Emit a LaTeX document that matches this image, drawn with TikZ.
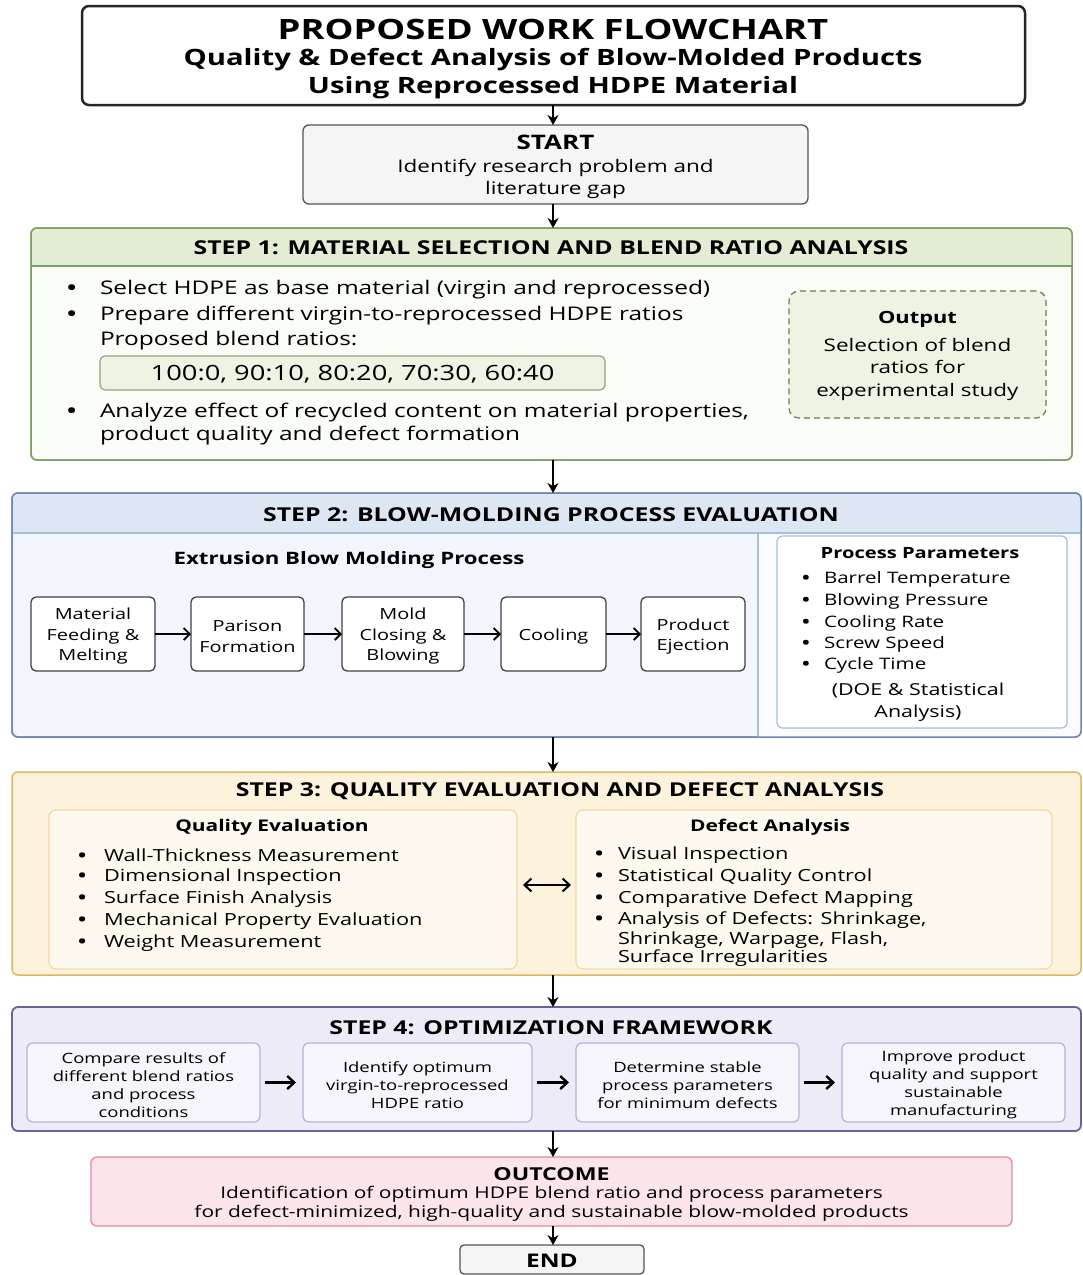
\documentclass[tikz,border=0pt]{standalone}
\usepackage{fontspec}
\setmainfont{Open Sans}[FakeStretch=1.3]
\usetikzlibrary{arrows.meta}
\definecolor{gbord}{HTML}{7E9E68}
\definecolor{ghead}{HTML}{E2EDD4}
\definecolor{gbody}{HTML}{FAFCF7}
\definecolor{gbox}{HTML}{EDF4E4}
\definecolor{gboxb}{HTML}{8FA382}
\definecolor{bbord}{HTML}{6F85B5}
\definecolor{bhead}{HTML}{DDE7F4}
\definecolor{bbody}{HTML}{F2F6FC}
\definecolor{bpanel}{HTML}{F9FBFE}
\definecolor{bpanelb}{HTML}{A8BEDD}
\definecolor{ybord}{HTML}{DDB762}
\definecolor{ybody}{HTML}{FDF3DC}
\definecolor{yin}{HTML}{FEF9EF}
\definecolor{yinb}{HTML}{EFD9A3}
\definecolor{pbord}{HTML}{6A6396}
\definecolor{pbody}{HTML}{EEEBF8}
\definecolor{pin}{HTML}{F7F5FC}
\definecolor{pinb}{HTML}{B9B1D5}
\definecolor{rbody}{HTML}{FBE4EA}
\definecolor{rbord}{HTML}{E2899C}
\definecolor{grayfill}{HTML}{F5F5F5}
\definecolor{grayline}{HTML}{555555}
\newcommand{\fz}[1]{\fontsize{#1}{1.25\dimexpr#1pt\relax}\selectfont}
\newcommand{\fzl}[2]{\fontsize{#1}{#2}\selectfont}
\newcommand{\bul}[1]{\makebox[#1][l]{\bfseries •}}
\tikzset{
  box/.style={rectangle, rounded corners=6pt, anchor=north west, inner sep=0pt, outer sep=0pt},
  txt/.style={inner sep=0pt, outer sep=0pt, yshift=-1.5pt},
  ctx/.style={inner sep=0pt, outer sep=0pt, align=center, yshift=-2.5pt},
  lt/.style={txt, anchor=west, yshift=-1pt},
  flow/.style={-{Stealth[length=10pt,width=11pt]}, line width=2.2pt, black},
  pa/.style={-{Straight Barb[length=6pt,width=12pt]}, line width=1.8pt, black},
  oa/.style={-{Straight Barb[length=7pt,width=13pt]}, line width=2.4pt, black},
}
\begin{document}
\begin{tikzpicture}[x=1pt,y=-1pt]
\useasboundingbox (0,0) rectangle (1083,1275);
\coordinate (axis) at (553,0);

% ---------- title
\node[box, draw=black!85, fill=white, line width=2.5pt, rounded corners=7pt, minimum width=943, minimum height=99] (title) at (82,6) {};
\node[txt, font=\fz{28}\bfseries] (t1) at (553,28) {PROPOSED WORK FLOWCHART};
\node[txt, font=\fz{22.5}\bfseries] (t2) at (553,58) {Quality \& Defect Analysis of Blow-Molded Products};
\node[txt, font=\fz{22.5}\bfseries] (t3) at (553,86) {Using Reprocessed HDPE Material};

% ---------- start
\node[box, draw=grayline, fill=grayfill, line width=1.3pt, minimum width=505, minimum height=79] (start) at (303,125) {};
\node[ctx, font=\fzl{17.3}{22}] (startt) at (start.center)
  {{\fz{20}\bfseries START}\\[1pt] Identify research problem and\\ literature gap};

% ---------- step 1
\node[box, draw=gbord, fill=gbody, line width=1.5pt, minimum width=1041, minimum height=232] (s1) at (31,228) {};
\begin{scope}
  \clip[rounded corners=6pt] (s1.north west) rectangle (s1.south east);
  \fill[ghead] (s1.north west) rectangle ([yshift=-38pt]s1.north east);
\end{scope}
\draw[gbord, line width=1.2pt] ([yshift=-38pt]s1.north west) -- ([yshift=-38pt]s1.north east);
\draw[gbord, line width=1.5pt, rounded corners=6pt] (s1.north west) rectangle (s1.south east);
\node[txt, font=\fz{19.1}\bfseries] (h1) at (551,246) {STEP 1: MATERIAL SELECTION AND BLEND RATIO ANALYSIS};
\node[lt, font=\fz{18.8}] (b1a) at (67,287) {\bul{33pt}Select HDPE as base material (virgin and reprocessed)};
\node[lt, font=\fz{18.8}] (b1b) at (67,313) {\bul{33pt}Prepare different virgin-to-reprocessed HDPE ratios};
\node[lt, font=\fz{18.8}] (b1c) at (100,338) {Proposed blend ratios:};
\node[box, draw=gboxb, fill=gbox, line width=1.2pt, rounded corners=5pt, minimum width=505, minimum height=34] (ratio) at (100,356) {};
\node[ctx, font=\fz{21}, yshift=1pt] (ratiot) at (ratio.center) {100:0, 90:10, 80:20, 70:30, 60:40};
\node[lt, font=\fz{18.8}] (b1d) at (67,410) {\bul{33pt}Analyze effect of recycled content on material properties,};
\node[lt, font=\fz{18.8}] (b1e) at (100,433) {product quality and defect formation};
\node[box, draw=gbord!80!black, fill=gbox, line width=1.2pt, dash pattern=on 6pt off 4pt, rounded corners=10pt, minimum width=257, minimum height=127] (out) at (789,291) {};
\node[ctx, font=\fzl{17.3}{22.5}, yshift=1pt] (outt) at (out.center)
  {{\fz{16.8}\bfseries Output}\\[5pt] Selection of blend\\ ratios for\\ experimental study};

% ---------- step 2
\node[box, draw=bbord, fill=bbody, line width=1.5pt, minimum width=1069, minimum height=244] (s2) at (12,493) {};
\begin{scope}
  \clip[rounded corners=6pt] (s2.north west) rectangle (s2.south east);
  \fill[bhead] (s2.north west) rectangle ([yshift=-40pt]s2.north east);
  \fill[bpanel] (758,533) rectangle (1081,737);
\end{scope}
\draw[bpanelb, line width=1.2pt] ([yshift=-40pt]s2.north west) -- ([yshift=-40pt]s2.north east);
\draw[bpanelb, line width=1.2pt] (758,533) -- (758,737);
\draw[bbord, line width=1.5pt, rounded corners=6pt] (s2.north west) rectangle (s2.south east);
\node[txt, font=\fz{19.1}\bfseries] (h2) at (551,513) {STEP 2: BLOW-MOLDING PROCESS EVALUATION};
\node[txt, font=\fz{17.1}\bfseries] (ebm) at (349,559) {Extrusion Blow Molding Process};
\tikzset{pbox/.style={box, draw=black!75, fill=white, line width=1.3pt, rounded corners=5pt, minimum height=74},
         ptxt/.style={ctx, font=\fzl{15.3}{20.5}}}
\node[pbox, minimum width=124] (p1) at (31,597) {};
\node[pbox, minimum width=113] (p2) at (191,597) {};
\node[pbox, minimum width=122] (p3) at (342,597) {};
\node[pbox, minimum width=105] (p4) at (501,597) {};
\node[pbox, minimum width=104] (p5) at (641,597) {};
\node[ptxt] (p1t) at (p1.center) {Material\\ Feeding \&\\ Melting};
\node[ptxt] (p2t) at (p2.center) {Parison\\ Formation};
\node[ptxt] (p3t) at (p3.center) {Mold\\ Closing \&\\ Blowing};
\node[ptxt] (p4t) at (p4.center) {Cooling};
\node[ptxt] (p5t) at (p5.center) {Product\\ Ejection};
\draw[pa] (p1) -- (p2);
\draw[pa] (p2) -- (p3);
\draw[pa] (p3) -- (p4);
\draw[pa] (p4) -- (p5);
\node[box, draw=bpanelb, fill=white, line width=1.2pt, rounded corners=5pt, minimum width=290, minimum height=192] (pp) at (777,536) {};
\node[txt, font=\fz{15.5}\bfseries] (pph) at (920,552) {Process Parameters};
\node[lt, font=\fz{15.8}] (pq1) at (802,577) {\bul{22pt}Barrel Temperature};
\node[lt, font=\fz{15.8}] (pq2) at (802,599) {\bul{22pt}Blowing Pressure};
\node[lt, font=\fz{15.8}] (pq3) at (802,621) {\bul{22pt}Cooling Rate};
\node[lt, font=\fz{15.8}] (pq4) at (802,642) {\bul{22pt}Screw Speed};
\node[lt, font=\fz{15.8}] (pq5) at (802,663) {\bul{22pt}Cycle Time};
\node[ctx, font=\fzl{16.5}{22}] (doe) at (918,700) {(DOE \& Statistical\\ Analysis)};

% ---------- step 3
\node[box, draw=ybord, fill=ybody, line width=1.5pt, minimum width=1069, minimum height=203] (s3) at (12,772) {};
\node[txt, font=\fz{19.1}\bfseries] (h3) at (560,790) {STEP 3: QUALITY EVALUATION AND DEFECT ANALYSIS};
\node[box, draw=yinb, fill=yin, line width=1.2pt, rounded corners=7pt, minimum width=468, minimum height=159] (qe) at (49,810) {};
\node[box, draw=yinb, fill=yin, line width=1.2pt, rounded corners=7pt, minimum width=476, minimum height=159] (da) at (576,810) {};
\node[txt, font=\fz{16.1}\bfseries] (qeh) at (272,826) {Quality Evaluation};
\node[lt, font=\fz{16.7}] (q1) at (78,853) {\bul{26pt}Wall-Thickness Measurement};
\node[lt, font=\fz{16.7}] (q2) at (78,875) {\bul{26pt}Dimensional Inspection};
\node[lt, font=\fz{16.7}] (q3) at (78,897) {\bul{26pt}Surface Finish Analysis};
\node[lt, font=\fz{16.7}] (q4) at (78,919) {\bul{26pt}Mechanical Property Evaluation};
\node[lt, font=\fz{16.7}] (q5) at (78,941) {\bul{26pt}Weight Measurement};
\node[txt, font=\fz{16.1}\bfseries] (dah) at (770,826) {Defect Analysis};
\node[lt, font=\fz{16.7}] (d1) at (595,853) {\bul{23pt}Visual Inspection};
\node[lt, font=\fz{16.7}] (d2) at (595,875) {\bul{23pt}Statistical Quality Control};
\node[lt, font=\fz{16.7}] (d3) at (595,897) {\bul{23pt}Comparative Defect Mapping};
\node[lt, font=\fz{16.7}] (d4) at (595,918) {\bul{23pt}Analysis of Defects: Shrinkage,};
\node[lt, font=\fz{16.7}] (d5) at (618,938) {Shrinkage, Warpage, Flash,};
\node[lt, font=\fz{16.7}] (d6) at (618,956) {Surface Irregularities};
\draw[{Straight Barb[length=7pt,width=13pt]}-{Straight Barb[length=7pt,width=13pt]}, line width=2pt, shorten <=6pt, shorten >=5pt] ([yshift=4.5pt]qe.east) -- ([yshift=4.5pt]da.west);

% ---------- step 4
\node[box, draw=pbord, fill=pbody, line width=1.8pt, minimum width=1069, minimum height=124] (s4) at (12,1007) {};
\node[txt, font=\fz{19.1}\bfseries] (h4) at (551,1026) {STEP 4: OPTIMIZATION FRAMEWORK};
\tikzset{obox/.style={box, draw=pinb, fill=pin, line width=1.2pt, rounded corners=6pt, minimum height=79},
         otxt/.style={ctx, font=\fzl{14.2}{18}}}
\node[obox, minimum width=233] (o1) at (27,1043) {};
\node[obox, minimum width=229] (o2) at (303,1043) {};
\node[obox, minimum width=223] (o3) at (576,1043) {};
\node[obox, minimum width=223] (o4) at (842,1043) {};
\node[otxt] (o1t) at (o1.center) {Compare results of\\ different blend ratios\\ and process\\ conditions};
\node[otxt] (o2t) at (o2.center) {Identify optimum\\ virgin-to-reprocessed\\ HDPE ratio};
\node[otxt] (o3t) at (o3.center) {Determine stable\\ process parameters\\ for minimum defects};
\node[otxt] (o4t) at (o4.center) {Improve product\\ quality and support\\ sustainable\\ manufacturing};
\draw[oa, shorten <=5pt, shorten >=7pt] (o1) -- (o2);
\draw[oa, shorten <=5pt, shorten >=7pt] (o2) -- (o3);
\draw[oa, shorten <=5pt, shorten >=7pt] (o3) -- (o4);

% ---------- outcome & end
\node[box, draw=rbord, fill=rbody, line width=1.3pt, minimum width=921, minimum height=69] (outc) at (91,1157) {};
\node[ctx, font=\fzl{16.1}{18.5}] (outct) at (outc.center)
  {{\fz{17.8}\bfseries OUTCOME}\\[0pt] Identification of optimum HDPE blend ratio and process parameters\\ for defect-minimized, high-quality and sustainable blow-molded products};
\node[box, draw=grayline, fill=grayfill, line width=1.3pt, rounded corners=4pt, minimum width=184, minimum height=29] (endn) at (460,1245) {};
\node[ctx, font=\fz{18.8}\bfseries, yshift=1.5pt] (endt) at (endn.center) {END};

% ---------- main flow
\draw[flow] (title.south -| axis) -- (start.north -| axis);
\draw[flow] (start.south -| axis) -- (s1.north -| axis);
\draw[flow] (s1.south -| axis) -- (s2.north -| axis);
\draw[flow] (s2.south -| axis) -- (s3.north -| axis);
\draw[flow] (s3.south -| axis) -- (s4.north -| axis);
\draw[flow] (s4.south -| axis) -- (outc.north -| axis);
\draw[flow] (outc.south -| axis) -- (endn.north -| axis);
\end{tikzpicture}
\end{document}
